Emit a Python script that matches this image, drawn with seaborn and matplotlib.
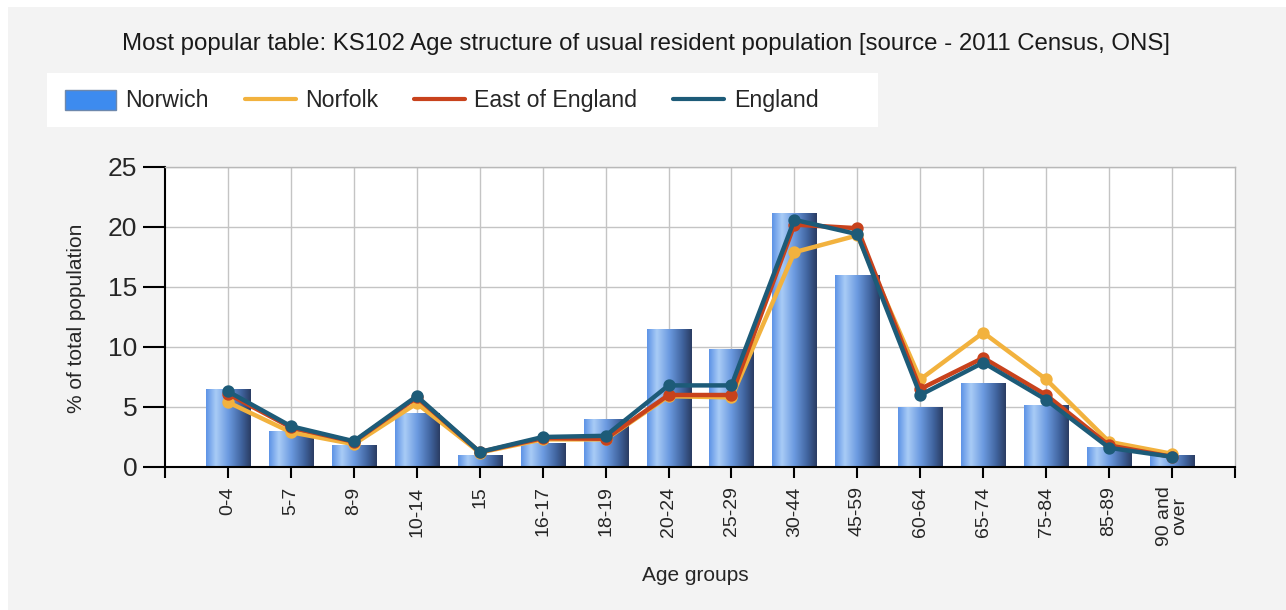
import numpy as np
import pandas as pd
import matplotlib
matplotlib.use("Agg")
import matplotlib.pyplot as plt
import seaborn as sns
from matplotlib.colors import LinearSegmentedColormap
from matplotlib.patches import Patch, Rectangle
from matplotlib.lines import Line2D

# KS102 age structure, % of usual resident population (2011 Census)
age_groups = ["0-4", "5-7", "8-9", "10-14", "15", "16-17", "18-19", "20-24",
              "25-29", "30-44", "45-59", "60-64", "65-74", "75-84", "85-89",
              "90 and\nover"]
norwich = [6.5, 3.0, 1.8, 4.5, 1.0, 2.0, 4.0, 11.5, 9.8, 21.2, 16.0, 5.0, 7.0, 5.2, 1.7, 1.0]
norfolk = [5.4, 2.9, 1.9, 5.3, 1.2, 2.3, 2.3, 5.9, 5.8, 17.9, 19.3, 7.3, 11.2, 7.3, 2.1, 1.1]
east_of_england = [6.1, 3.3, 2.1, 5.8, 1.25, 2.4, 2.35, 6.0, 6.0, 20.2, 19.9, 6.5, 9.1, 6.0, 1.8, 0.85]
england = [6.3, 3.4, 2.15, 5.9, 1.25, 2.5, 2.6, 6.8, 6.8, 20.6, 19.4, 6.0, 8.7, 5.6, 1.6, 0.85]

line_series = {"Norfolk": norfolk, "East of England": east_of_england, "England": england}
line_colors = {"Norfolk": "#f2b23e", "East of England": "#c8421c", "England": "#1d5b78"}
bar_color = "#3d8bef"

title = "Most popular table: KS102 Age structure of usual resident population [source - 2011 Census, ONS]"

sns.set_style("white")
plt.rcParams["font.family"] = ["Liberation Sans", "DejaVu Sans"]

W, H = 1286, 610
fig = plt.figure(figsize=(W / 100, H / 100), dpi=100, facecolor="white")
fig.add_artist(Rectangle((8 / W, 0), 1, 1 - 7 / H, transform=fig.transFigure,
                         facecolor="#f3f3f3", edgecolor="none", zorder=-10))

ax = fig.add_axes([165 / W, (H - 467) / H, (1235 - 165) / W, 300 / H])
ax.set_facecolor("white")

bar_df = pd.DataFrame({"age": age_groups, "pct": norwich})
sns.barplot(data=bar_df, x="age", y="pct", order=age_groups, color=bar_color,
            saturation=1, width=0.7, ax=ax)

# cylinder-style shading on each bar
shade = LinearSegmentedColormap.from_list(
    "cyl", [(0.0, "#5c92e6"), (0.22, "#a9ccf6"), (0.5, "#6b9ae0"),
            (0.8, "#3f629c"), (1.0, "#2a3c62")])
grad = np.linspace(0, 1, 256).reshape(1, -1)
for p in list(ax.patches):
    x0, y0, w, h = p.get_x(), p.get_y(), p.get_width(), p.get_height()
    im = ax.imshow(grad, cmap=shade, extent=[x0, x0 + w, y0, y0 + h],
                   aspect="auto", zorder=1, interpolation="bicubic")
    im.set_clip_path(p)
    p.set_facecolor("none")
    p.set_edgecolor("none")

line_df = pd.concat(
    [pd.DataFrame({"age": age_groups, "pct": v, "area": k}) for k, v in line_series.items()],
    ignore_index=True)
sns.pointplot(data=line_df, x="age", y="pct", hue="area", order=age_groups,
              hue_order=list(line_series), palette=line_colors, markers="o",
              linestyles="-", errorbar=None, dodge=False, legend=False, ax=ax,
              markersize=6.5, linewidth=3.2)

ax.set_xlim(-1, 16)
ax.set_ylim(0, 25)
ax.set_yticks(range(0, 26, 5))
ax.set_xticks(range(len(age_groups)))
ax.set_xticks([-1, 16], minor=True)
ax.grid(True, which="major", color="#c4c4c4", linewidth=1)
ax.set_axisbelow(True)

for s in ("left", "bottom"):
    ax.spines[s].set_color("black")
    ax.spines[s].set_linewidth(1.5)
for s in ("top", "right"):
    ax.spines[s].set_color("#b8b8b8")
    ax.spines[s].set_linewidth(1)

ax.tick_params(axis="both", which="both", bottom=True, left=True, direction="out",
               width=1.5, color="black")
ax.tick_params(axis="x", which="both", length=8)
ax.tick_params(axis="x", labelsize=14, labelrotation=90, pad=6)
ax.tick_params(axis="y", length=16, labelsize=19, pad=4)
for lbl in ax.get_xticklabels():
    lbl.set_verticalalignment("top")
    lbl.set_linespacing(0.8)

ax.set_xlabel("Age groups", fontsize=15)
ax.set_ylabel("% of total population", fontsize=15)
ax.xaxis.set_label_coords((695 - 165) / 1070, (467 - 566) / 300)
ax.yaxis.set_label_coords((86 - 165) / 1070, (467 - 318) / 300)

fig.text(646 / W, 1 - 44 / H, title, ha="center", va="center", fontsize=17.3, color="#1a1a1a")

# legend panel
fig.add_artist(Rectangle((47 / W, 1 - 127 / H), (878 - 47) / W, 54 / H,
                         transform=fig.transFigure, facecolor="white",
                         edgecolor="none", zorder=-5))
handles = [Patch(facecolor=bar_color, edgecolor="#6d88ad", linewidth=1)] + [
    Line2D([], [], color=line_colors[k], linewidth=3) for k in line_series]
labels = ["Norwich"] + list(line_series)
fig.legend(handles, labels, loc="center left", bbox_to_anchor=(65 / W, 1 - 101 / H),
           ncol=4, frameon=False, borderpad=0, borderaxespad=0, fontsize=16.7,
           handlelength=2.2, handleheight=0.95, handletextpad=0.4, columnspacing=1.55)

fig.savefig("out.png", dpi=100, facecolor=fig.get_facecolor())
